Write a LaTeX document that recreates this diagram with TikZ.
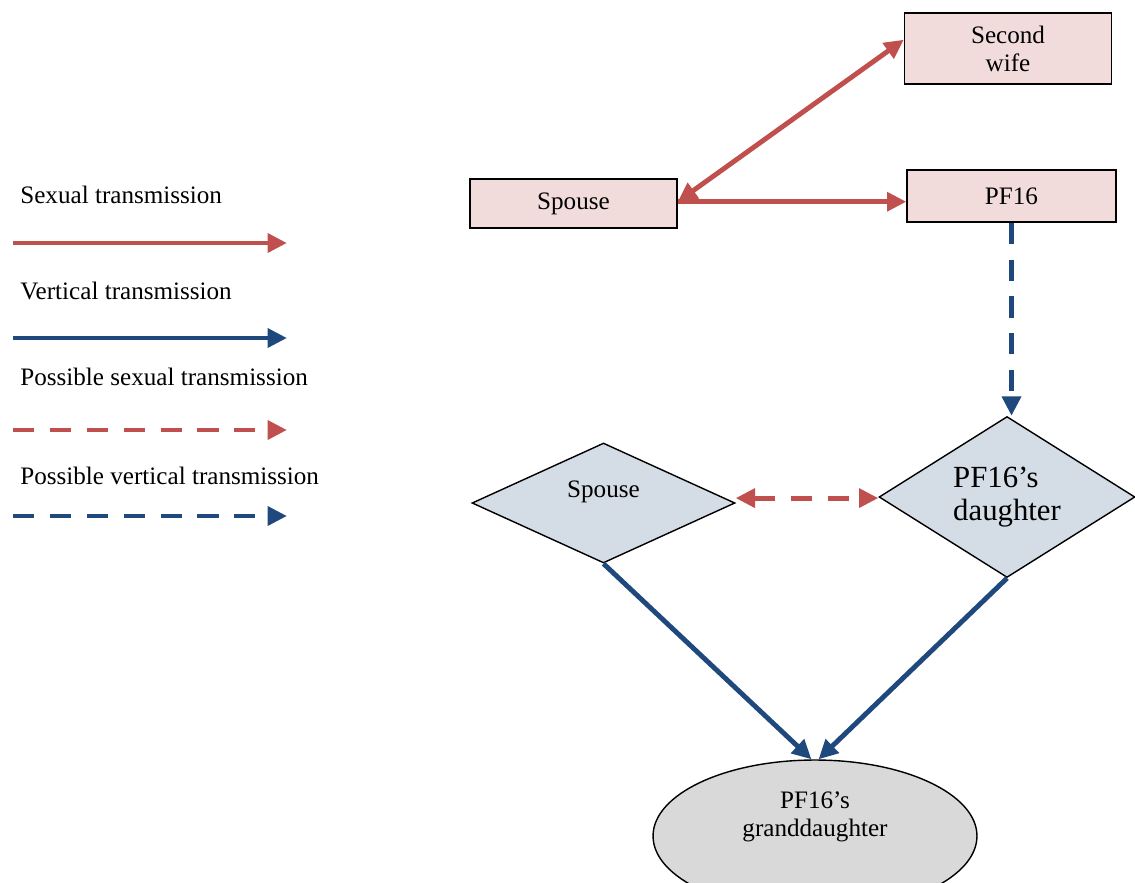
\documentclass[tikz,border=0pt]{standalone}
\usepackage{fontspec}
\setmainfont{Liberation Serif}
\usetikzlibrary{positioning,arrows.meta,shapes.geometric}

\definecolor{sexred}{HTML}{C0504D}
\definecolor{vertblue}{HTML}{1F497D}
\definecolor{boxpink}{HTML}{F2DCDB}
\definecolor{diagrey}{HTML}{D4DCE5}
\definecolor{ellgrey}{HTML}{D9D9D9}

\begin{document}
\begin{tikzpicture}[
    x=0.02cm, y=-0.02cm,
    font=\fontsize{14.3}{16}\selectfont,
    box/.style={draw,line width=0.8pt,fill=boxpink,align=center,inner sep=0pt},
    rhomb/.style={diamond,draw,line width=0.8pt,fill=diagrey,shape aspect=1.6,inner sep=0pt},
    legend/.style={anchor=west,inner sep=0pt},
    sexual/.style={draw=sexred,line width=2.8pt},
    vertical/.style={draw=vertblue,line width=2.8pt},
    possible/.style={dash pattern=on 12pt off 9pt},
    >={Triangle[length=11pt,width=10.5pt]}
]
\useasboundingbox (0,0) rectangle (1135,882);

% legend
\node (lsex) [legend] at (20,195) {Sexual transmission};
\coordinate (lsexa) at (13,243);
\coordinate (lsexb) at (287,243);
\draw[sexual,->] (lsexa) -- (lsexb);

\node (lvert) [legend] at (20,291) {Vertical transmission};
\coordinate (lverta) at (13,338);
\coordinate (lvertb) at (287,338);
\draw[vertical,->] (lverta) -- (lvertb);

\node (lpsex) [legend] at (20,377) {Possible sexual transmission};
\coordinate (lpsexa) at (13,430);
\coordinate (lpsexb) at (287,430);
\draw[sexual,possible,->] (lpsexa) -- (lpsexb);

\node (lpvert) [legend] at (20,476) {Possible vertical transmission};
\coordinate (lpverta) at (13,516);
\coordinate (lpvertb) at (287,516);
\draw[vertical,possible,->] (lpverta) -- (lpvertb);

% family
\node (sw) [box,minimum width=4.14cm,minimum height=1.42cm] at (1008,48.5) {Second\\wife};
\node (sp) [box,minimum width=4.14cm,minimum height=0.98cm] at (573.5,203.5) {Spouse};
\node (pf) [box,minimum width=4.18cm,minimum height=1.04cm] at (1011.5,196) {PF16};

\node (sp2) [rhomb,minimum width=5.26cm,minimum height=2.4cm,
    label={[yshift=6.2pt]center:Spouse}] at (603.5,503) {};
\node (dau) [rhomb,minimum width=5.12cm,minimum height=3.22cm,
    font=\fontsize{17.5}{19}\selectfont,align=left] at (1007,497) {PF16’s\\daughter};

\node (gd) [ellipse,draw,line width=0.8pt,fill=ellgrey,minimum width=6.48cm,minimum height=3.04cm,
    label={[align=center,yshift=10.8pt]center:{PF16’s\\granddaughter}}] at (815,836) {};

\draw[sexual,<->] ([yshift=1pt]sp.east) -- ([yshift=5pt]sw.west);
\draw[sexual,->] ([yshift=1pt]sp.east) -- ([yshift=1pt]sp.east -| pf.west);

\draw[vertical,possible,->] (pf.south) -- (pf.south |- dau.north);
\draw[sexual,possible,<->] ([yshift=2.8pt]sp2.east) -- ([yshift=2.8pt]sp2.east -| dau.west);

\draw[vertical,->] (sp2.south) -- ([xshift=-2pt]gd.north);
\draw[vertical,->] (dau.south) -- ([xshift=2pt]gd.north);

\end{tikzpicture}
\end{document}
